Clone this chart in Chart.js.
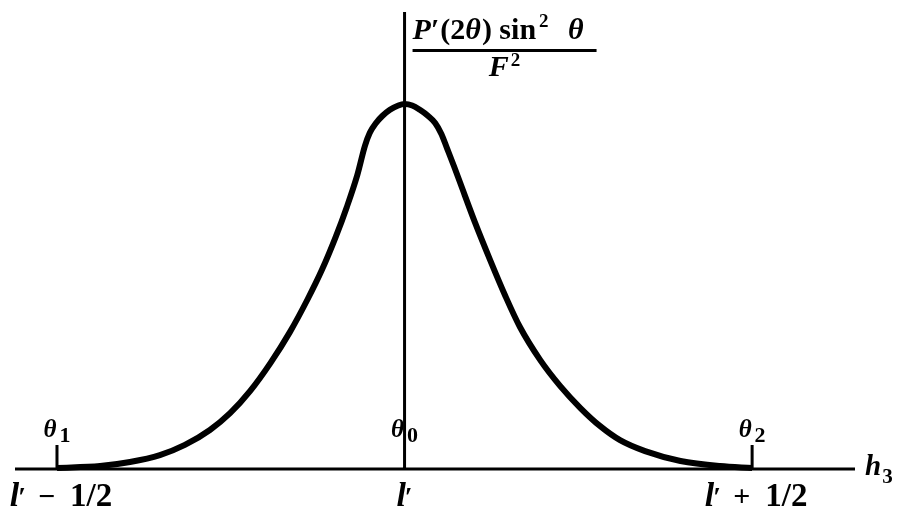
<!DOCTYPE html>
<html>
<head>
<meta charset="utf-8">
<script src="https://cdn.jsdelivr.net/npm/chart.js@4"></script>
<style>
  html, body { margin: 0; padding: 0; background: #fff; }
  #c { display: block; }
</style>
</head>
<body>
<canvas id="c" width="900" height="516"></canvas>
<script>
const hValues = [-0.5, -0.438, -0.395, -0.352, -0.316, -0.28, -0.251, -0.222, -0.193, -0.165, -0.14, -0.119, -0.099, -0.083, -0.068, -0.057, -0.05, -0.041, -0.032, -0.021, -0.009, 0,
    0.011, 0.022, 0.034, 0.044, 0.053, 0.061, 0.071, 0.08, 0.101, 0.123, 0.145, 0.166, 0.195, 0.224, 0.253, 0.281, 0.31, 0.346, 0.397, 0.454, 0.5];
const profile = [0.003, 0.008, 0.019, 0.038, 0.066, 0.107, 0.153, 0.214, 0.29, 0.375, 0.463, 0.545, 0.636, 0.718, 0.805, 0.885, 0.921, 0.948, 0.967, 0.984, 0.996, 1.0,
    0.996, 0.984, 0.967, 0.948, 0.918, 0.879, 0.83, 0.784, 0.677, 0.573, 0.474, 0.389, 0.299, 0.227, 0.167, 0.118, 0.079, 0.049, 0.022, 0.008, 0.003];

const tickPositions = [-0.5, 0, 0.5];
const tickTop = ["θ", "θ", "θ"];
const tickTopSub = ["1", "0", "2"];
const tickBottom = ["−", "", "+"];

const xMin = -0.5604, xMax = 0.648;
const yMin = 0, yMax = 1.252;

const serif = '"Liberation Serif", "DejaVu Serif", serif';

// draws a row of text pieces with their own fonts, centred or left aligned
const drawRuns = (ctx, x, y, runs, align) => {
    let total = 0;
    runs.forEach(r => {
        ctx.font = r.font;
        r.w = ctx.measureText(r.t).width + (r.gap || 0);
        total += r.w;
    });
    let cx = align === "left" ? x : x - total / 2;
    ctx.textAlign = "left";
    ctx.textBaseline = "alphabetic";
    runs.forEach(r => {
        ctx.font = r.font;
        ctx.fillText(r.t, cx, y + (r.dy || 0));
        cx += r.w;
    });
    return total;
};

const axesPlugin = {
    id: "axesPlugin",
    beforeDatasetsDraw(chart) {
        const { ctx, scales: { x, y } } = chart;
        ctx.save();
        ctx.strokeStyle = "#000";
        ctx.lineWidth = 3;
        ctx.beginPath();
        ctx.moveTo(x.getPixelForValue(xMin), y.getPixelForValue(0));
        ctx.lineTo(x.getPixelForValue(xMax), y.getPixelForValue(0));
        ctx.moveTo(x.getPixelForValue(0), y.getPixelForValue(0));
        ctx.lineTo(x.getPixelForValue(0), y.getPixelForValue(yMax));
        tickPositions.forEach(t => {
            ctx.moveTo(x.getPixelForValue(t), y.getPixelForValue(0));
            ctx.lineTo(x.getPixelForValue(t), y.getPixelForValue(0) - 24);
        });
        ctx.stroke();
        ctx.restore();
    },
    afterDraw(chart) {
        const { ctx, scales: { x, y } } = chart;
        const base = y.getPixelForValue(0);
        ctx.save();
        ctx.fillStyle = "#000";
        const bi = "italic bold 30px " + serif;
        const b = "bold 30px " + serif;
        const sup = "bold 19px " + serif;

        tickPositions.forEach((t, i) => {
            const px = x.getPixelForValue(t);
            drawRuns(ctx, px, base - 32, [
                { t: tickTop[i], font: "italic bold 25px " + serif, gap: 3 },
                { t: tickTopSub[i], font: "bold 22px " + serif, dy: 5 }
            ], "center");
            const runs = [
                { t: "l", font: "italic bold 34px " + serif, gap: -1 },
                { t: "′", font: "bold 28px " + serif }
            ];
            if (tickBottom[i]) {
                runs.push({ t: "", font: b, gap: 12 });
                runs.push({ t: tickBottom[i], font: "bold 30px " + serif, gap: 15 });
                runs.push({ t: "1/2", font: "bold 33px " + serif });
            }
            drawRuns(ctx, tickBottom[i] ? px + 4 : px, base + 37, runs, "center");
        });

        // axis name
        drawRuns(ctx, x.getPixelForValue(xMax) + 10, base + 6, [
            { t: "h", font: "italic bold 29px " + serif, gap: 1 },
            { t: "3", font: "bold 21px " + serif, dy: 8 }
        ], "left");

        // y label as a fraction
        const left = x.getPixelForValue(0) + 8;
        drawRuns(ctx, left, 39, [
            { t: "P", font: bi },
            { t: "′", font: b, gap: 1 },
            { t: "(2", font: b },
            { t: "θ", font: bi, gap: 1 },
            { t: ") sin", font: b, gap: 3 },
            { t: "2", font: sup, dy: -12, gap: 12 },
            { t: " θ", font: bi }
        ], "left");
        ctx.fillRect(left, 49, 184, 3);
        drawRuns(ctx, left + 92, 76, [
            { t: "F", font: bi, gap: 2 },
            { t: "2", font: sup, dy: -10 }
        ], "center");
        ctx.restore();
    }
};

new Chart(document.getElementById("c"), {
    type: "scatter",
    data: {
        datasets: [{
            data: hValues.map((h, i) => ({ x: h, y: profile[i] })),
            showLine: true,
            borderColor: "#000",
            borderWidth: 6,
            pointRadius: 0,
            cubicInterpolationMode: "monotone",
            clip: false
        }]
    },
    options: {
        responsive: false,
        animation: false,
        layout: { padding: { left: 15, right: 45, top: 12, bottom: 47 } },
        plugins: { legend: { display: false }, tooltip: { enabled: false } },
        scales: {
            x: { type: "linear", min: xMin, max: xMax, display: false },
            y: { type: "linear", min: yMin, max: yMax, display: false }
        }
    },
    plugins: [axesPlugin]
});
</script>
</body>
</html>
